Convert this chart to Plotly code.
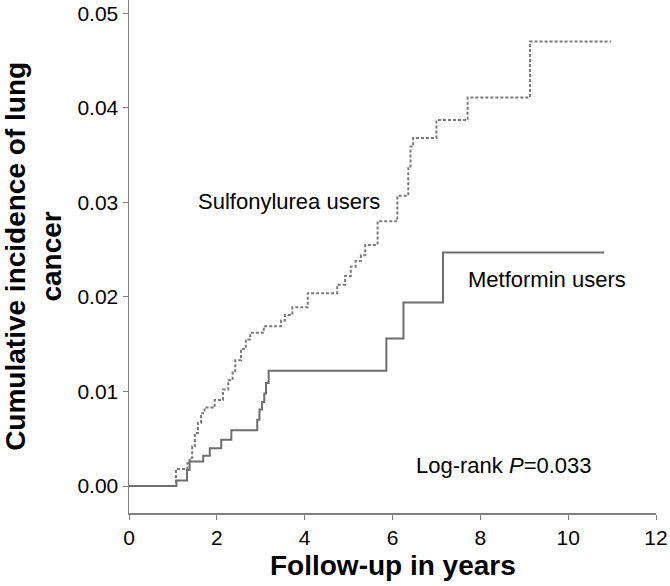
import plotly.graph_objects as go

# Sulfonylurea users (dotted) step curve: event times (years) and cumulative incidence
sulf_t = [0, 1.07, 1.33, 1.38, 1.44, 1.50, 1.57, 1.64, 1.72, 1.95, 2.14, 2.26, 2.36, 2.42,
          2.55, 2.66, 2.76, 3.07, 3.46, 3.55, 3.72, 4.07, 4.74, 4.92, 5.05, 5.16, 5.28,
          5.38, 5.66, 6.11, 6.36, 6.41, 6.47, 7.00, 7.71, 9.13, 10.98]
sulf_y = [0, 0.0018, 0.0024, 0.0030, 0.0042, 0.0056, 0.0067, 0.0077, 0.0083, 0.0091, 0.0102,
          0.0112, 0.0120, 0.0133, 0.0145, 0.0155, 0.0162, 0.0169, 0.0175, 0.0181, 0.0189,
          0.0204, 0.0213, 0.0222, 0.0232, 0.0238, 0.0244, 0.0255, 0.0280, 0.0307, 0.0336,
          0.0359, 0.0368, 0.0387, 0.0411, 0.0470, 0.0470]

# Metformin users (solid) step curve
met_t = [0, 1.08, 1.32, 1.38, 1.69, 1.84, 2.10, 2.33, 2.92, 2.97, 3.03, 3.08, 3.12, 3.18,
         5.86, 6.25, 7.15, 10.82]
met_y = [0, 0.0006, 0.0017, 0.0026, 0.0032, 0.0040, 0.0049, 0.0059, 0.0070, 0.0081, 0.0089,
         0.0098, 0.0109, 0.0122, 0.0156, 0.0194, 0.0247, 0.0247]

x_ticks = [0, 2, 4, 6, 8, 10, 12]
y_ticks = [0.00, 0.01, 0.02, 0.03, 0.04, 0.05]

FONT = "Liberation Sans, Arial, sans-serif"

fig = go.Figure()
fig.add_trace(go.Scatter(x=sulf_t, y=sulf_y, mode="lines", line_shape="hv",
                         line=dict(color="#7a7a7a", width=2, dash="3px,2px"),
                         name="Sulfonylurea users", showlegend=False, hoverinfo="skip"))
fig.add_trace(go.Scatter(x=met_t, y=met_y, mode="lines", line_shape="hv",
                         line=dict(color="#6e6e6e", width=2),
                         name="Metformin users", showlegend=False, hoverinfo="skip"))

fig.update_layout(
    width=670, height=586,
    margin=dict(l=129, r=14, t=0, b=73),
    paper_bgcolor="white", plot_bgcolor="white",
    hovermode=False,
    font=dict(family=FONT, color="black", size=21),
    xaxis=dict(range=[0, 12], tickvals=x_ticks, ticktext=[str(v) for v in x_ticks],
               showgrid=False, zeroline=False, showline=True, linecolor="#808080",
               linewidth=1.5, ticks="outside", ticklen=5, tickcolor="#808080",
               tickfont=dict(size=21, family=FONT)),
    yaxis=dict(range=[-0.00285, 0.0514], tickvals=y_ticks,
               ticktext=[f"{v:.2f}" for v in y_ticks],
               showgrid=False, zeroline=False, showline=True, linecolor="#808080",
               linewidth=1.5, ticks="outside", ticklen=5, tickcolor="#808080",
               tickfont=dict(size=21, family=FONT)),
    annotations=[
        dict(text="Sulfonylurea users", x=3.65, y=0.03005, xref="x", yref="y",
             xanchor="center", yanchor="middle",
             showarrow=False, font=dict(size=22, family=FONT)),
        dict(text="Metformin users", x=9.52, y=0.02187, xref="x", yref="y",
             xanchor="center", yanchor="middle",
             showarrow=False, font=dict(size=22, family=FONT)),
        dict(text="Log-rank <i>P</i>=0.033", x=8.54, y=0.00222, xref="x", yref="y",
             xanchor="center", yanchor="middle",
             showarrow=False, font=dict(size=22, family=FONT)),
        dict(text="<b>Follow-up in years</b>", x=0.5, y=-0.1014, xref="paper", yref="paper",
             xanchor="center", yanchor="middle",
             showarrow=False, font=dict(size=28, family=FONT)),
        dict(text="<b>Cumulative incidence of lung<br>cancer</b>", x=-0.1815, y=0.5,
             xref="paper", yref="paper", textangle=-90, showarrow=False,
             xanchor="center", yanchor="middle",
             font=dict(size=28, family=FONT)),
    ],
)

fig.write_html("out.html",
               config={"displayModeBar": False, "staticPlot": True},
               post_script="document.body.style.margin='0';document.body.style.padding='0';")
